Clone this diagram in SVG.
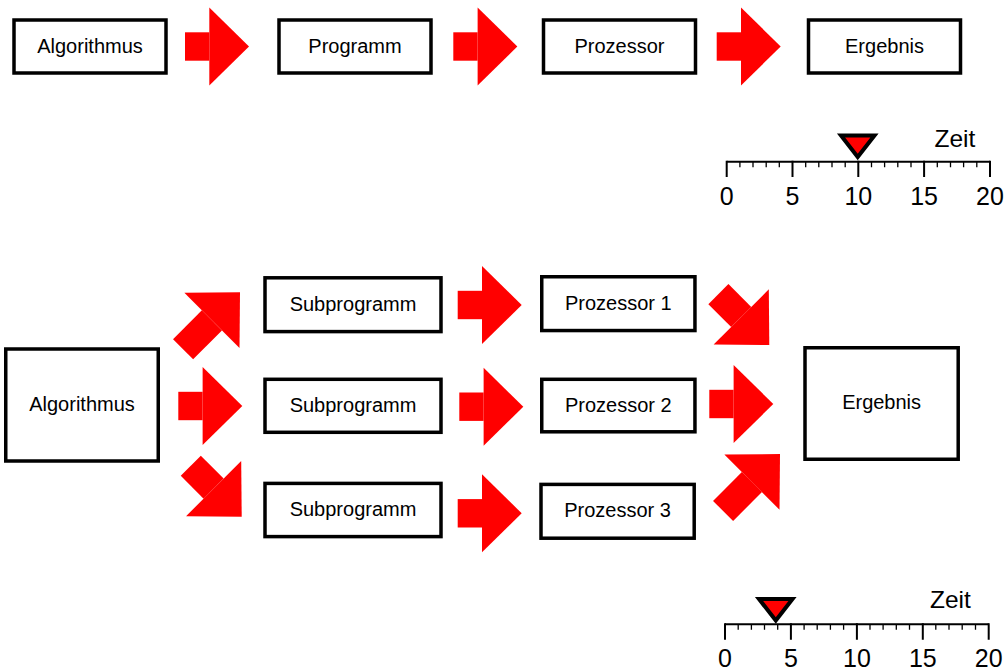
<svg xmlns="http://www.w3.org/2000/svg" xmlns:xlink="http://www.w3.org/1999/xlink" width="1005" height="668" viewBox="0 0 1005 668">
<style>
.box{fill:#fff;stroke:#000;stroke-width:3.5}
.lbl{font-family:"Liberation Sans",Arial,sans-serif;font-size:20px;fill:#000;text-anchor:middle}
.num{font-family:"Liberation Sans",Arial,sans-serif;font-size:25px;fill:#000;text-anchor:middle}
.zeit{font-family:"Liberation Sans",Arial,sans-serif;font-size:24.5px;fill:#000}
.axis{stroke:#000;stroke-width:2;fill:none}
.minor{stroke:#000;stroke-width:1.3;fill:none}
.major{stroke:#000;stroke-width:2;fill:none}
.marker{fill:#ff0000;stroke:#000;stroke-width:4;stroke-linejoin:miter}
.red{fill:#ff0000}
</style>
<defs>
<polygon id="head" class="red" points="-39.7,-39 0,0 -39.7,39"/>
<g id="arr">
<rect class="red" x="-64" y="-14.2" width="24.3" height="28.4"/>
<use xlink:href="#head"/>
</g>
<g id="arrD">
<rect class="red" x="-72" y="-14.2" width="32.3" height="28.4"/>
<use xlink:href="#head"/>
</g>
<g id="arrU">
<rect class="red" x="-80.5" y="-14.2" width="40.8" height="28.4"/>
<use xlink:href="#head"/>
</g>
</defs>

<g id="top-algorithmus"><rect class="box" x="14" y="20" width="152" height="53"/><text class="lbl" x="90" y="52.5">Algorithmus</text></g>
<g id="top-programm"><rect class="box" x="279" y="20" width="152" height="53"/><text class="lbl" x="355" y="52.5">Programm</text></g>
<g id="top-prozessor"><rect class="box" x="543.5" y="20" width="152" height="53"/><text class="lbl" x="619.5" y="52.5">Prozessor</text></g>
<g id="top-ergebnis"><rect class="box" x="808.5" y="20" width="152" height="53"/><text class="lbl" x="884.5" y="52.5">Ergebnis</text></g>

<g id="bot-algorithmus"><rect class="box" x="5.75" y="349" width="152.5" height="112"/><text class="lbl" x="82" y="410.5">Algorithmus</text></g>
<g id="sub1"><rect class="box" x="265" y="277.8" width="176" height="53.8"/><text class="lbl" x="353" y="310.5">Subprogramm</text></g>
<g id="sub2"><rect class="box" x="265" y="379.3" width="176" height="53"/><text class="lbl" x="353" y="411.5">Subprogramm</text></g>
<g id="sub3"><rect class="box" x="265" y="483.4" width="176" height="53.2"/><text class="lbl" x="353" y="515.5">Subprogramm</text></g>
<g id="proz1"><rect class="box" x="541.75" y="276.75" width="153.2" height="53.8"/><text class="lbl" x="618.3" y="309.5">Prozessor 1</text></g>
<g id="proz2"><rect class="box" x="541.75" y="379.3" width="153.2" height="52.5"/><text class="lbl" x="618.3" y="411.5">Prozessor 2</text></g>
<g id="proz3"><rect class="box" x="541" y="484.4" width="153.2" height="53.8"/><text class="lbl" x="617.6" y="517">Prozessor 3</text></g>
<g id="bot-ergebnis"><rect class="box" x="805" y="347.75" width="153.2" height="111.5"/><text class="lbl" x="881.6" y="409">Ergebnis</text></g>

<g id="connectors">
<use xlink:href="#arr" transform="translate(249,46.5)"/>
<use xlink:href="#arr" transform="translate(517.3,46.5)"/>
<use xlink:href="#arr" transform="translate(780.7,46.5)"/>

<use xlink:href="#arrU" transform="translate(240,292.3) rotate(-45)"/>
<use xlink:href="#arr" transform="translate(242.3,406)"/>
<use xlink:href="#arrD" transform="translate(241.7,516.7) rotate(45)"/>

<use xlink:href="#arr" transform="translate(521.7,305)"/>
<use xlink:href="#arr" transform="translate(523.3,406.7)"/>
<use xlink:href="#arr" transform="translate(521.7,513.3)"/>

<use xlink:href="#arrD" transform="translate(769.3,345) rotate(45)"/>
<use xlink:href="#arr" transform="translate(773.3,404)"/>
<use xlink:href="#arrU" transform="translate(780,454) rotate(-45)"/>
</g>

<g id="timeline-top">
<line class="axis" x1="726.7" y1="161.7" x2="990" y2="161.7"/>
<path class="minor" d="M739.9,161.7v5.5M753,161.7v5.5M766.2,161.7v5.5M779.3,161.7v5.5M805.7,161.7v5.5M818.8,161.7v5.5M832,161.7v5.5M845.2,161.7v5.5M871.5,161.7v5.5M884.6,161.7v5.5M897.8,161.7v5.5M911,161.7v5.5M937.3,161.7v5.5M950.5,161.7v5.5M963.6,161.7v5.5M976.8,161.7v5.5"/>
<path class="major" d="M726.7,160.7v16.3M792.5,160.7v16.3M858.3,160.7v16.3M924.1,160.7v16.3M990,160.7v16.3"/>
<text class="num" x="726.7" y="204.5">0</text>
<text class="num" x="792.5" y="204.5">5</text>
<text class="num" x="858.3" y="204.5">10</text>
<text class="num" x="924.1" y="204.5">15</text>
<text class="num" x="990" y="204.5">20</text>
<text class="zeit" x="934.5" y="146.7">Zeit</text>
<polygon class="marker" points="841,135.5 874.5,135.5 857.7,157"/>
</g>

<g id="timeline-bottom">
<line class="axis" x1="725" y1="624.3" x2="988.7" y2="624.3"/>
<path class="minor" d="M738.2,624.3v5.5M751.4,624.3v5.5M764.5,624.3v5.5M777.7,624.3v5.5M804.1,624.3v5.5M817.2,624.3v5.5M830.4,624.3v5.5M843.6,624.3v5.5M870,624.3v5.5M883.1,624.3v5.5M896.3,624.3v5.5M909.5,624.3v5.5M935.8,624.3v5.5M949,624.3v5.5M962.2,624.3v5.5M975.5,624.3v5.5"/>
<path class="major" d="M725,623.3v16.5M790.9,623.3v16.5M856.9,623.3v16.5M922.8,623.3v16.5M988.7,623.3v16.5"/>
<text class="num" x="725" y="666.5">0</text>
<text class="num" x="790.9" y="666.5">5</text>
<text class="num" x="856.9" y="666.5">10</text>
<text class="num" x="922.8" y="666.5">15</text>
<text class="num" x="988.7" y="666.5">20</text>
<text class="zeit" x="930" y="608.3">Zeit</text>
<polygon class="marker" points="759,599 792.5,599 775.8,620.5"/>
</g>
</svg>
